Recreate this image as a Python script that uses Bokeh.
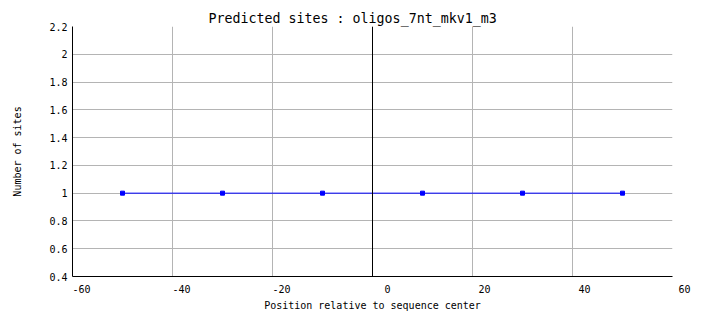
from bokeh.plotting import figure
from bokeh.models import FixedTicker, Span, Range1d
from bokeh.embed import file_html
from bokeh.resources import INLINE

# data
positions = [-50, -30, -10, 10, 30, 50]
sites = [1, 1, 1, 1, 1, 1]

x_ticks = [-60, -40, -20, 0, 20, 40, 60]
x_tick_labels = ["-60", "-40", "-20", "0", "20", "40", "60"]
y_ticks = [0.4, 0.6, 0.8, 1.0, 1.2, 1.4, 1.6, 1.8, 2.0, 2.2]
y_tick_labels = ["0.4", "0.6", "0.8", "1", "1.2", "1.4", "1.6", "1.8", "2", "2.2"]

title = "Predicted sites : oligos_7nt_mkv1_m3"
x_label = "Position relative to sequence center"
y_label = "Number of sites"

FONT = "DejaVu Sans Mono"
TICK_FS = "10px"
GRID = "#b4b4b4"

p = figure(width=704, height=328, output_backend="svg", toolbar_location=None,
           x_range=Range1d(x_ticks[0], x_ticks[-1]),
           y_range=Range1d(y_ticks[0], y_ticks[-1]),
           min_border_left=72, min_border_right=32,
           min_border_top=26, min_border_bottom=52)

# title centred on the whole image (frame starts 72 px in)
p.title.text = title
p.title.align = "left"
p.title.offset = 136
p.title.text_font = FONT
p.title.text_font_size = "13.3px"
p.title.text_font_style = "normal"
p.title.text_color = "black"
p.title.standoff = 2

p.outline_line_color = None
p.background_fill_color = "white"
p.border_fill_color = "white"

# grids
p.xgrid.ticker = FixedTicker(ticks=x_ticks)
p.ygrid.ticker = FixedTicker(ticks=y_ticks)
for g in (p.xgrid, p.ygrid):
    g.grid_line_color = GRID
    g.grid_line_width = 1

# y axis
ya = p.yaxis[0]
ya.ticker = FixedTicker(ticks=y_ticks)
ya.major_label_overrides = {t: l for t, l in zip(y_ticks, y_tick_labels)}
ya.major_tick_out = 0
ya.major_tick_in = 0
ya.minor_tick_out = 0
ya.minor_tick_in = 0
ya.axis_line_color = "black"
ya.major_label_text_font = FONT
ya.major_label_text_font_size = TICK_FS
ya.major_label_text_color = "black"
ya.major_label_standoff = 5
ya.axis_label = y_label
ya.axis_label_text_font = FONT
ya.axis_label_text_font_size = "10px"
ya.axis_label_text_font_style = "normal"
ya.axis_label_text_color = "black"
ya.axis_label_standoff = 23

# x axis: the reference prints each label right-aligned just right of its grid line;
# padding every label to the same width (monospace) reproduces that placement.
PAD = "\u00a0"
xa = p.xaxis[0]
xa.ticker = FixedTicker(ticks=x_ticks)
xa.major_label_overrides = {t: PAD * (6 - len(l)) + l for t, l in zip(x_ticks, x_tick_labels)}
xa.major_tick_out = 0
xa.major_tick_in = 0
xa.minor_tick_out = 0
xa.minor_tick_in = 0
xa.axis_line_color = "black"
xa.major_label_text_font = FONT
xa.major_label_text_font_size = TICK_FS
xa.major_label_text_color = "black"
xa.major_label_standoff = 7
xa.axis_label = x_label
xa.axis_label_text_font = FONT
xa.axis_label_text_font_size = "10px"
xa.axis_label_text_font_style = "normal"
xa.axis_label_text_color = "black"
xa.axis_label_standoff = 2

# vertical line at the center
p.add_layout(Span(location=0, dimension="height", line_color="black", line_width=1))

p.line(positions, sites, line_color="#0000ff", line_width=1)
p.scatter(positions, sites, marker="square", size=4, fill_color="#0000ff", line_color="#0000ff")

open("out.html", "w").write(file_html(p, INLINE))
